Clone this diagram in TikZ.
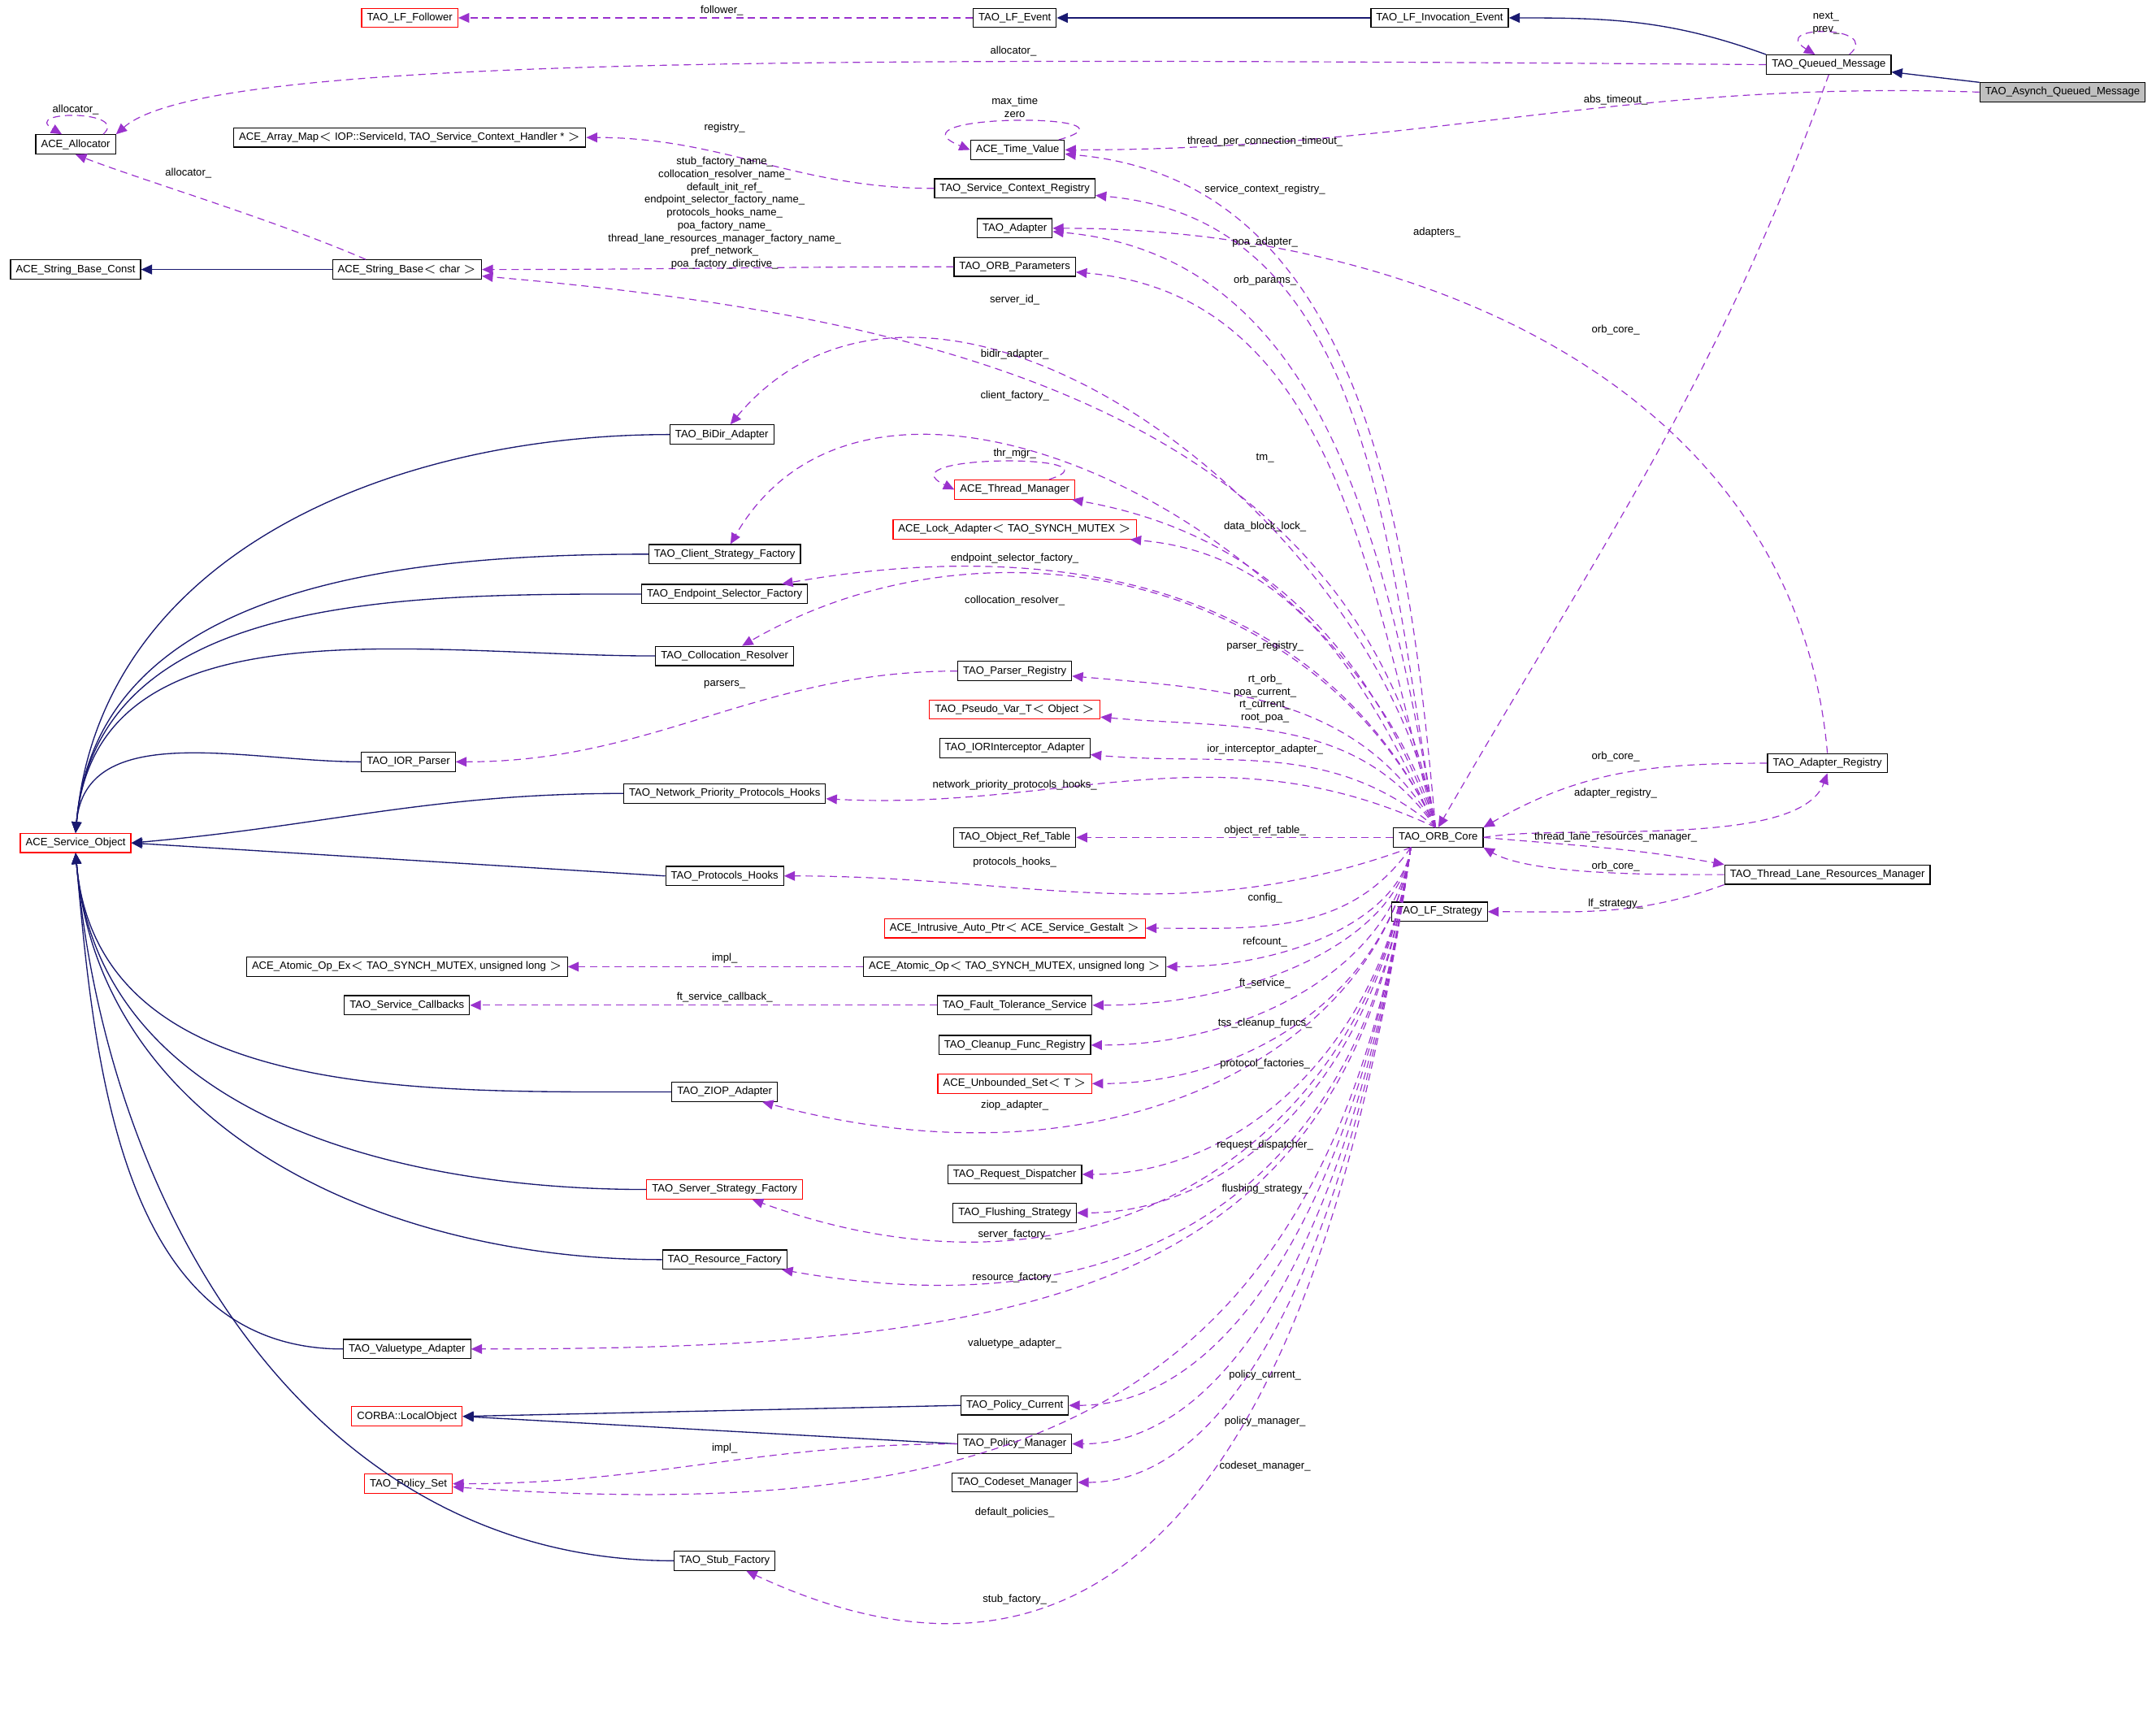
\documentclass[tikz,border=0pt]{standalone}
\usepackage{fontspec}
\setmainfont{Liberation Sans}
\usetikzlibrary{arrows.meta,calc}
\definecolor{navy}{RGB}{25,25,112}
\definecolor{purp}{RGB}{154,50,205}
\definecolor{gr}{RGB}{191,191,191}
\begin{document}
\begin{tikzpicture}[x=0.02cm,y=-0.02cm,font=\fontsize{4.4}{5.3}\selectfont,
 cls/.style={draw=black,line width=0.4pt,minimum height=0.28cm,inner xsep=2.2pt,inner ysep=0pt,fill=white},
 rcls/.style={cls,draw=red},
 inh/.style={draw=navy,line width=0.45pt,-{Triangle[length=4.5pt,width=4pt]}},
 use/.style={draw=purp,dash pattern=on 3pt off 2pt,line width=0.4pt,-{Triangle[length=4.5pt,width=4pt]}},
 lbl/.style={inner sep=0pt,align=center}]
\useasboundingbox (0,0) rectangle (1568,1243);
% nodes
\node[cls,fill=gr] (aqm) at (1500,67) {TAO\_Asynch\_Queued\_Message};
\node[cls] (qm) at (1330,47) {TAO\_Queued\_Message};
\node[cls] (lie) at (1047,13) {TAO\_LF\_Invocation\_Event};
\node[cls] (lfe) at (738,13) {TAO\_LF\_Event};
\node[rcls] (lff) at (298,13) {TAO\_LF\_Follower};
\node[cls] (al) at (55,105) {ACE\_Allocator};
\node[cls] (tv) at (740,109) {ACE\_Time\_Value};
\node[cls] (am) at (298,100) {ACE\_Array\_Map$<$ IOP::ServiceId, TAO\_Service\_Context\_Handler * $>$};
\node[cls] (scr) at (738,137) {TAO\_Service\_Context\_Registry};
\node[cls] (ad) at (738,166) {TAO\_Adapter};
\node[cls] (sbc) at (55,196) {ACE\_String\_Base\_Const};
\node[cls] (sb) at (296,196) {ACE\_String\_Base$<$ char $>$};
\node[cls] (op) at (738,194) {TAO\_ORB\_Parameters};
\node[cls] (bidir) at (525,316) {TAO\_BiDir\_Adapter};
\node[rcls] (tm) at (738,356) {ACE\_Thread\_Manager};
\node[rcls] (la) at (738,385) {ACE\_Lock\_Adapter$<$ TAO\_SYNCH\_MUTEX $>$};
\node[cls] (csf) at (527,403) {TAO\_Client\_Strategy\_Factory};
\node[cls] (esf) at (527,432) {TAO\_Endpoint\_Selector\_Factory};
\node[cls] (cr) at (527,477) {TAO\_Collocation\_Resolver};
\node[cls] (pr) at (738,488) {TAO\_Parser\_Registry};
\node[rcls] (pv) at (738,516) {TAO\_Pseudo\_Var\_T$<$ Object $>$};
\node[cls] (iia) at (738,544) {TAO\_IORInterceptor\_Adapter};
\node[cls] (iorp) at (297,554) {TAO\_IOR\_Parser};
\node[cls] (nph) at (527,577) {TAO\_Network\_Priority\_Protocols\_Hooks};
\node[rcls] (so) at (55,613) {ACE\_Service\_Object};
\node[cls] (ort) at (738,609) {TAO\_Object\_Ref\_Table};
\node[cls] (core) at (1046,609) {TAO\_ORB\_Core};
\node[cls] (areg) at (1329,555) {TAO\_Adapter\_Registry};
\node[cls] (tlr) at (1329,636) {TAO\_Thread\_Lane\_Resources\_Manager};
\node[cls] (lfs) at (1047,663) {TAO\_LF\_Strategy};
\node[cls] (prh) at (527,637) {TAO\_Protocols\_Hooks};
\node[rcls] (iap) at (738,675) {ACE\_Intrusive\_Auto\_Ptr$<$ ACE\_Service\_Gestalt $>$};
\node[cls] (aoe) at (296,703) {ACE\_Atomic\_Op\_Ex$<$ TAO\_SYNCH\_MUTEX, unsigned long $>$};
\node[cls] (aop) at (738,703) {ACE\_Atomic\_Op$<$ TAO\_SYNCH\_MUTEX, unsigned long $>$};
\node[cls] (sc) at (296,731) {TAO\_Service\_Callbacks};
\node[cls] (fts) at (738,731) {TAO\_Fault\_Tolerance\_Service};
\node[cls] (cfr) at (738,760) {TAO\_Cleanup\_Func\_Registry};
\node[rcls] (us) at (738,788) {ACE\_Unbounded\_Set$<$ T $>$};
\node[cls] (ziop) at (527,794) {TAO\_ZIOP\_Adapter};
\node[cls] (rd) at (738,854) {TAO\_Request\_Dispatcher};
\node[rcls] (ssf) at (527,865) {TAO\_Server\_Strategy\_Factory};
\node[cls] (fs) at (738,882) {TAO\_Flushing\_Strategy};
\node[cls] (rf) at (527,916) {TAO\_Resource\_Factory};
\node[cls] (va) at (296,981) {TAO\_Valuetype\_Adapter};
\node[rcls] (lo) at (296,1030) {CORBA::LocalObject};
\node[cls] (pc) at (738,1022) {TAO\_Policy\_Current};
\node[cls] (pm) at (738,1050) {TAO\_Policy\_Manager};
\node[rcls] (ps) at (297,1079) {TAO\_Policy\_Set};
\node[cls] (cm) at (738,1078) {TAO\_Codeset\_Manager};
\node[cls] (stf) at (527,1135) {TAO\_Stub\_Factory};
% inheritance
\draw[inh] (aqm) -- (qm);
\draw[inh] (qm.north west) to[out=160,in=0] (lie.east);
\draw[inh] (lie) -- (lfe);
\draw[inh] (sb) -- (sbc);
\foreach \s in {bidir,csf,esf,cr,iorp} \draw[inh] (\s.west) to[out=180,in=85] (so.north);
\draw[inh] (nph.west) to[out=180,in=5] (so.east);
\draw[inh] (prh.west) -- (so.east);
\foreach \s in {ziop,ssf,rf,va,stf} \draw[inh] (\s.west) to[out=180,in=-85] (so.south);
\draw[inh] (pc.west) -- (lo.east);
\draw[inh] (pm.west) -- (lo.east);
% usage
\draw[use] (lfe) -- (lff);
\draw[use] (qm.west) .. controls (600,42) and (150,40) .. (al.north east);
\draw[use] (aqm.west) to[out=178,in=0] (tv.east);
\draw[use] ($(qm.north)+(15,0)$) .. controls (1370,18) and (1285,18) .. ($(qm.north)+(-10,0)$);
\draw[use] ($(al.north)+(20,0)$) .. controls (95,80) and (15,80) .. ($(al.north)+(-10,0)$);
\draw[use] ($(tv.north)+(30,0)$) .. controls (840,82) and (640,82) .. (tv.west);
\draw[use] ($(tm.north)+(25,0)$) .. controls (820,330) and (640,330) .. (tm.west);
\draw[use] (scr.west) to[out=180,in=0] (am.east);
\draw[use] ($(sb.north)+(-30,0)$) .. controls (200,160) and (100,130) .. (al.south);
\draw[use] (op.west) to[out=180,in=0] (sb.east);
\draw[use] (qm.south) to[out=250,in=60] (core.north);
\draw[use] (areg.north) to[out=95,in=0] (ad.east);
\draw[use] (areg.west) to[out=180,in=30] (core.north east);
\draw[use] (core.east) to[out=10,in=250,looseness=0.6] (areg.south);
\draw[use] (tlr.west) to[out=180,in=-30,looseness=0.6] (core.south east);
\draw[use] (core.east) to[out=-5,in=170] (tlr.north west);
\draw[use] (tlr.south west) to[out=200,in=0] (lfs.east);
\draw[use] (pr.west) to[out=180,in=0] (iorp.east);
\draw[use] (aop) -- (aoe);
\draw[use] (fts) -- (sc);
\draw[use] (pm.west) to[out=180,in=0] (ps.east);
\draw[use] (core.west) -- (ort.east);
\foreach \t/\o/\i in {tv/95/-5,scr/100/-5,ad/100/-5,op/105/-5,sb/100/-5,bidir/100/50,csf/105/60,tm/110/-10,la/115/-5,esf/115/10,cr/115/30,pr/120/-5,pv/125/-5,iia/140/-5,nph/155/-3}
  \draw[use] ($(core.north)+(-2,0)$) to[out=\o,in=\i] (\t);
\draw[use] ($(core.south)+(-20,0)$) to[out=200,in=0] (prh);
\draw[use] ($(core.south)+(-20,0)$) to[out=235,in=0] (iap);
\foreach \t/\i/\od/\id in {aop/0/1.04/1.78,fts/0/1.38/2.28,cfr/0/1.73/2.31,us/0/2.06/2.33,ziop/-15/2.8/5.5,rd/0/2.86/2.36,fs/0/3.19/2.4,ssf/-20/4.2/5.5,rf/-10/4.8/5.5,va/0/6.6/8.2,pc/0/4.87/2.46,pm/0/5.2/2.44,cm/0/5.5/2.4,ps/-4/8.3/8.3,stf/-25/9.5/5.7}
  \draw[use] ($(core.south)+(-20,0)$) to[out=262,in=\i,out distance=\od cm,in distance=\id cm] (\t);
% labels
\node[lbl] (l1) at (525,8) {follower\_};
\node[lbl] (l2) at (737,37) {allocator\_};
\node[lbl] (l3) at (1328,17) {next\_\\prev\_};
\node[lbl] (l4) at (1175,73) {abs\_timeout\_};
\node[lbl] (l5) at (55,80) {allocator\_};
\node[lbl] (l6) at (738,78) {max\_time\\zero};
\node[lbl] (l7) at (920,103) {thread\_per\_connection\_timeout\_};
\node[lbl] (l8) at (527,93) {registry\_};
\node[lbl] (l9) at (137,126) {allocator\_};
\node[lbl] (l10) at (527,155) {stub\_factory\_name\_\\collocation\_resolver\_name\_\\default\_init\_ref\_\\endpoint\_selector\_factory\_name\_\\protocols\_hooks\_name\_\\poa\_factory\_name\_\\thread\_lane\_resources\_manager\_factory\_name\_\\pref\_network\_\\poa\_factory\_directive\_};
\node[lbl] (l11) at (920,138) {service\_context\_registry\_};
\node[lbl] (l12) at (1045,169) {adapters\_};
\node[lbl] (l13) at (920,176) {poa\_adapter\_};
\node[lbl] (l14) at (920,204) {orb\_params\_};
\node[lbl] (l15) at (738,218) {server\_id\_};
\node[lbl] (l16) at (1175,240) {orb\_core\_};
\node[lbl] (l17) at (738,258) {bidir\_adapter\_};
\node[lbl] (l18) at (738,288) {client\_factory\_};
\node[lbl] (l19) at (738,330) {thr\_mgr\_};
\node[lbl] (l20) at (920,333) {tm\_};
\node[lbl] (l21) at (920,383) {data\_block\_lock\_};
\node[lbl] (l22) at (738,406) {endpoint\_selector\_factory\_};
\node[lbl] (l23) at (738,437) {collocation\_resolver\_};
\node[lbl] (l24) at (920,470) {parser\_registry\_};
\node[lbl] (l25) at (527,498) {parsers\_};
\node[lbl] (l26) at (920,508) {rt\_orb\_\\poa\_current\_\\rt\_current\_\\root\_poa\_};
\node[lbl] (l27) at (920,545) {ior\_interceptor\_adapter\_};
\node[lbl] (l28) at (1175,550) {orb\_core\_};
\node[lbl] (l29) at (1175,577) {adapter\_registry\_};
\node[lbl] (l30) at (738,571) {network\_priority\_protocols\_hooks\_};
\node[lbl] (l31) at (920,604) {object\_ref\_table\_};
\node[lbl] (l32) at (1175,609) {thread\_lane\_resources\_manager\_};
\node[lbl] (l33) at (738,627) {protocols\_hooks\_};
\node[lbl] (l34) at (1175,630) {orb\_core\_};
\node[lbl] (l35) at (1175,657) {lf\_strategy\_};
\node[lbl] (l36) at (920,653) {config\_};
\node[lbl] (l37) at (920,685) {refcount\_};
\node[lbl] (l38) at (527,697) {impl\_};
\node[lbl] (l39) at (527,725) {ft\_service\_callback\_};
\node[lbl] (l40) at (920,715) {ft\_service\_};
\node[lbl] (l41) at (920,744) {tss\_cleanup\_funcs\_};
\node[lbl] (l42) at (920,774) {protocol\_factories\_};
\node[lbl] (l43) at (738,804) {ziop\_adapter\_};
\node[lbl] (l44) at (920,833) {request\_dispatcher\_};
\node[lbl] (l45) at (920,865) {flushing\_strategy\_};
\node[lbl] (l46) at (738,898) {server\_factory\_};
\node[lbl] (l47) at (738,929) {resource\_factory\_};
\node[lbl] (l48) at (738,977) {valuetype\_adapter\_};
\node[lbl] (l49) at (920,1000) {policy\_current\_};
\node[lbl] (l50) at (920,1034) {policy\_manager\_};
\node[lbl] (l51) at (527,1053) {impl\_};
\node[lbl] (l52) at (920,1066) {codeset\_manager\_};
\node[lbl] (l53) at (738,1100) {default\_policies\_};
\node[lbl] (l54) at (738,1163) {stub\_factory\_};
\end{tikzpicture}
\end{document}
